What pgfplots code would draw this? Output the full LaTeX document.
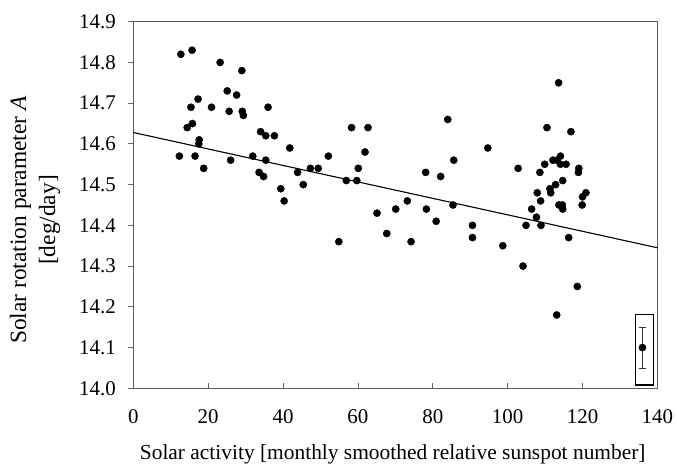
\documentclass[border=0pt]{standalone}
\usepackage{pgfplots}
\pgfplotsset{compat=1.18}
\usetikzlibrary{calc}
\usepackage{fontspec}
\setmainfont{Liberation Serif}
\begin{document}
\begin{tikzpicture}
\begin{axis}[
  name=ax,
  scale only axis,
  width=524.1bp, height=366.6bp,
  xmin=0, xmax=140, ymin=14.0, ymax=14.9,
  xtick={0,20,40,60,80,100,120,140},
  ytick={14.0,14.1,14.2,14.3,14.4,14.5,14.6,14.7,14.8,14.9},
  xtick pos=bottom, ytick pos=left,
  tick align=outside,
  major tick length=5bp,
  xtick style={yshift=5bp, black!60, line width=0.8bp},
  ytick style={black!60, line width=0.8bp},
  axis line style={black!65, line width=0.9bp},
  /pgf/number format/assume math mode=true,
  ticklabel style={font=\fontsize{21}{25}\selectfont, black},
  yticklabel style={xshift=-9bp, /pgf/number format/.cd, fixed, fixed zerofill, precision=1},
  xticklabel style={yshift=-13bp, /pgf/number format/.cd, fixed, precision=0},
  clip=false,
]
% regression line
\addplot[black, line width=1.1bp, no marks] coordinates {(0,14.628) (140,14.345)};
% observations
\addplot[only marks, mark=*, mark size=3.6bp, black] table {
x y
12.7 14.82
15.7 14.83
23.2 14.80
29.0 14.78
25.1 14.73
27.6 14.72
17.3 14.71
15.4 14.69
20.9 14.69
25.6 14.68
29.1 14.68
29.4 14.67
36.0 14.69
15.8 14.65
14.4 14.64
34.0 14.63
35.4 14.62
37.7 14.62
17.6 14.61
17.5 14.60
12.3 14.57
16.5 14.57
26.0 14.56
31.9 14.57
35.4 14.56
41.8 14.59
18.8 14.54
33.6 14.53
34.8 14.52
43.9 14.53
47.3 14.54
49.4 14.54
52.1 14.57
45.4 14.50
39.4 14.49
40.3 14.46
58.3 14.64
62.7 14.64
61.9 14.58
60.1 14.54
56.9 14.51
59.7 14.51
54.9 14.36
65.1 14.43
67.7 14.38
70.1 14.44
73.2 14.46
74.2 14.36
78.1 14.53
78.3 14.44
80.9 14.41
82.1 14.52
84.0 14.66
85.6 14.56
85.4 14.45
90.6 14.40
90.6 14.37
94.7 14.59
98.7 14.35
113.6 14.75
110.5 14.64
116.9 14.63
102.8 14.54
108.6 14.53
109.9 14.55
112.1 14.56
113.2 14.56
114.1 14.57
114.1 14.55
115.6 14.55
119.0 14.54
118.9 14.53
114.7 14.51
112.8 14.50
111.3 14.49
111.5 14.48
107.9 14.48
120.9 14.48
120.0 14.47
108.8 14.46
106.4 14.44
113.7 14.45
114.6 14.45
114.7 14.44
119.9 14.45
107.7 14.42
104.9 14.40
108.9 14.40
116.3 14.37
104.1 14.30
118.6 14.25
113.1 14.18
};
% typical error example
\addplot[black, line width=1.1bp, no marks] coordinates {(134.1,14.008) (138.9,14.008) (138.9,14.182) (134.1,14.182) (134.1,14.008)};
\addplot[only marks, mark=*, mark size=3.6bp, black,
  error bars/.cd, y dir=both, y explicit,
  error bar style={line width=0.6bp, black!80},
  error mark options={line width=0.6bp, black!80, mark size=3.5bp, rotate=90}]
  coordinates {(136,14.1) +- (0,0.05)};
\node[rotate=90, align=center, font=\fontsize{23.5}{29}\selectfont, anchor=center]
  at (axis description cs:-0.1876,0.459) {Solar rotation parameter \textit{A}\\{}[deg/day]};
\node[font=\fontsize{21.5}{25}\selectfont, anchor=base]
  at (axis description cs:0.495,-0.193) {Solar activity [monthly smoothed relative sunspot number]};
\end{axis}
\pgfresetboundingbox
\path[use as bounding box] ($(ax.south west)+(-133.3bp,-79.7bp)$) rectangle ($(ax.north east)+(19.6bp,21.7bp)$);
\end{tikzpicture}
\end{document}
